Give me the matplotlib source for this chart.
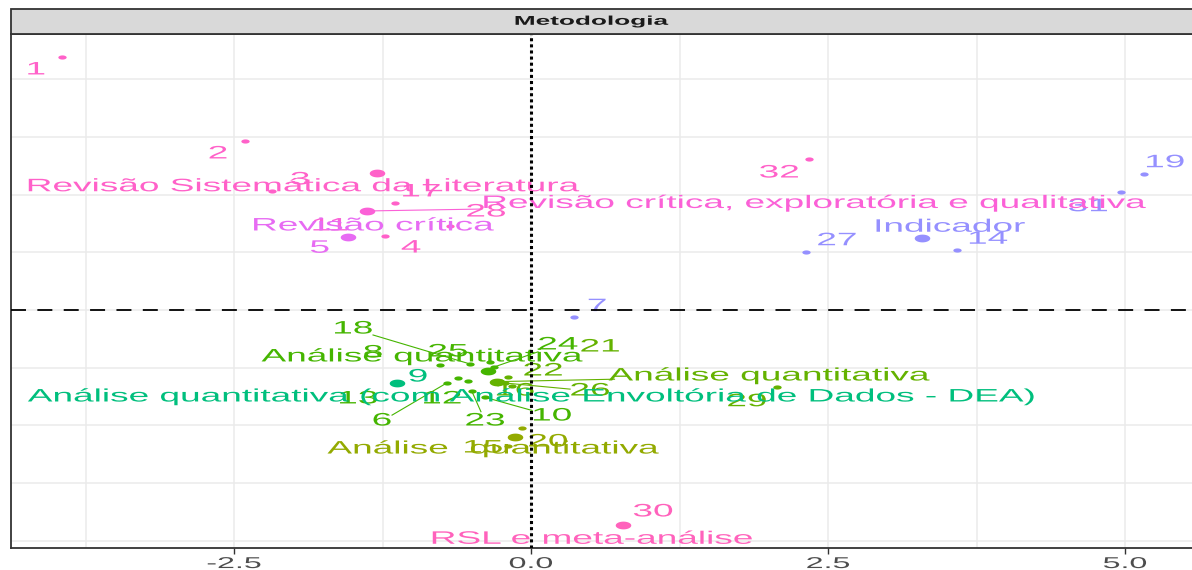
import numpy as np
import matplotlib
matplotlib.use('Agg')
import matplotlib.pyplot as plt
from matplotlib.path import Path
from matplotlib.patches import Rectangle
from matplotlib.patheffects import AbstractPathEffect
from matplotlib.transforms import Affine2D

plt.rcParams['font.family'] = ['Liberation Sans', 'DejaVu Sans']
plt.rcParams['axes.unicode_minus'] = False

# Metodologia groups: centroid (big dot) and label position
grupos = ['Revisão Sistemática da Literatura',
          'Revisão crítica',
          'Revisão crítica, exploratória e qualitativa',
          'Indicador',
          'RSL e meta-análise',
          'Análise quantitativa (com Análise Envoltória de Dados - DEA)',
          'Análise quantitativa',
          'Análise quantitativa',
          'Análise  quantitativa']
grupo_cx = [-1.299, -1.538, -1.383, 3.289, 0.777, -1.130, -0.359, -0.289, -0.135]
grupo_cy = [1.185, 0.635, 0.858, 0.627, -1.863, -0.635, -0.526, -0.621, -1.098]
grupo_lx = [-1.919, -1.330, 2.382, 3.527, 0.511, 0.0, -0.918, 2.003, -0.320]
grupo_ly = [1.068, 0.728, 0.923, 0.717, -1.987, -0.754, -0.407, -0.572, -1.205]
grupo_cor = ['#ff61c9', '#e76bf3', '#fb61d7', '#9590ff', '#ff62bc',
             '#00bf7d', '#45b500', '#64b200', '#93aa00']
grupo_seg = [2, 7]

# individual studies
ids = list(range(1, 33))
px = [-3.944, -2.407, -2.180, -1.232, -1.538, -0.710, 0.362, -0.766, -1.130, -0.387,
      -1.383, -0.614, -0.530, 3.583, -0.191, -0.160, -1.145, -0.513, 5.160, -0.078,
      -0.194, -0.261, -0.499, -0.311, -0.345, -0.219, 2.315, -0.682, 2.069, 0.777,
      4.964, 2.340]
py = [2.195, 1.467, 1.031, 0.641, 0.635, -0.633, -0.058, -0.477, -0.635, -0.757,
      0.858, -0.589, -0.615, 0.520, -1.176, -0.659, 0.925, -0.468, 1.179, -1.020,
      -0.581, -0.615, -0.702, -0.494, -0.451, -0.633, 0.505, 0.728, -0.670, -1.863,
      1.025, 1.306]
lx = [-4.167, -2.635, -1.944, -1.010, -1.779, -1.254, 0.556, -1.330, -0.951, 0.177,
      -1.692, -0.749, -1.456, 3.847, -0.404, -0.135, -0.926, -1.498, 5.337, 0.143,
      0.581, 0.101, -0.387, 0.227, -0.699, 0.497, 2.574, -0.379, 1.818, 1.027,
      4.689, 2.088]
ly = [2.080, 1.352, 1.127, 0.537, 0.535, -0.962, 0.029, -0.373, -0.581, -0.919,
      0.728, -0.771, -0.771, 0.613, -1.196, -0.702, 1.023, -0.165, 1.276, -1.144,
      -0.321, -0.529, -0.962, -0.303, -0.364, -0.702, 0.600, 0.849, -0.795, -1.750,
      0.895, 1.187]
grp = [0, 0, 0, 0, 1, 6, 3, 6, 5, 6,
       2, 6, 6, 3, 8, 7, 0, 6, 3, 8,
       7, 7, 6, 6, 6, 7, 3, 0, 7, 4,
       3, 0]
seg_ids = [6, 10, 18, 23, 24, 26]

xticks = [-2.5, 0.0, 2.5, 5.0]
xtick_labels = ['-2.5', '0.0', '2.5', '5.0']


class Wide(AbstractPathEffect):
    # the reference is stretched sideways, so stretch the glyphs too
    def __init__(self, sx=2.05):
        super().__init__()
        self.sx = sx

    def draw_path(self, renderer, gc, tpath, affine, rgbFace=None):
        ext = tpath.get_extents()
        cx = (ext.x0 + ext.x1) / 2
        st = Affine2D().translate(-cx, 0).scale(self.sx, 1).translate(cx, 0)
        renderer.draw_path(gc, tpath, st + affine, rgbFace)


wide = [Wide(2.05)]

t = np.linspace(0, 2 * np.pi, 41)
ell = Path(np.column_stack([np.cos(t), 0.5 * np.sin(t)]), closed=True)


def edge(x0, y0, x1, y1, s):
    # end point of a repel segment at the label box
    cw = 0.168 if s.isdigit() else 0.13
    hw = len(s) * cw / 2
    hh = 0.08
    dx, dy = x0 - x1, y0 - y1
    f = min(hw / abs(dx) if dx else 1e9, hh / abs(dy) if dy else 1e9)
    return x1 + f * dx, y1 + f * dy


fig = plt.figure(figsize=(11.92, 5.7), dpi=100)
ax = fig.add_axes([10.7 / 1192, 22.3 / 570, 1 - 10.7 / 1192, 513.4 / 570])
ax.set_xlim(-4.38, 5.564)
ax.set_ylim(-2.06, 2.389)

ax.set_xticks(xticks, labels=xtick_labels)
ax.set_xticks([-3.75, -1.25, 1.25, 3.75], minor=True)
ax.set_yticks([-2, -1, 0, 1, 2])
ax.set_yticks([-1.5, -0.5, 0.5, 1.5], minor=True)
ax.grid(True, which='both', color='#ebebeb', lw=1.1)
ax.set_axisbelow(True)
ax.tick_params(axis='y', which='both', left=False, labelleft=False)
ax.tick_params(axis='x', which='minor', bottom=False)
ax.tick_params(axis='x', which='major', length=4, width=1, pad=2,
               color='#333333', labelcolor='#4d4d4d', labelsize=11.3)
for sp in ['left', 'bottom', 'top']:
    ax.spines[sp].set_color('#333333')
    ax.spines[sp].set_linewidth(1.3)
ax.spines['right'].set_visible(False)

# points
for i in range(len(ids)):
    ax.plot(px[i], py[i], ls='none', marker=ell, ms=6.0, color=grupo_cor[grp[i]],
            mec='none', zorder=3)
for g in range(len(grupos)):
    ax.plot(grupo_cx[g], grupo_cy[g], ls='none', marker=ell, ms=11.2,
            color=grupo_cor[g], mec='none', zorder=3)

# segments
for i in range(len(ids)):
    if ids[i] in seg_ids:
        ex, ey = edge(px[i], py[i], lx[i], ly[i], str(ids[i]))
        ax.plot([px[i], ex], [py[i], ey], color=grupo_cor[grp[i]], lw=0.8, zorder=4)
for g in grupo_seg:
    ex, ey = edge(grupo_cx[g], grupo_cy[g], grupo_lx[g], grupo_ly[g], grupos[g])
    ax.plot([grupo_cx[g], ex], [grupo_cy[g], ey], color=grupo_cor[g], lw=0.8, zorder=4)

# labels
for i in range(len(ids)):
    ax.text(lx[i], ly[i], str(ids[i]), color=grupo_cor[grp[i]], fontsize=13,
            ha='center', va='center', zorder=5, path_effects=wide)
for g in range(len(grupos)):
    ax.text(grupo_lx[g], grupo_ly[g], grupos[g], color=grupo_cor[g], fontsize=13,
            ha='center', va='center', zorder=5, path_effects=wide)

ax.axvline(0, color='black', lw=2.2, ls=(0, (1.0, 1.0)), zorder=6)
ax.axhline(0, color='black', lw=1.3, ls=(0, (8.3, 6.3)), zorder=6)

for lab in ax.get_xticklabels():
    lab.set_path_effects(wide)

# facet strip
fig.add_artist(Rectangle((10.7 / 1192, 535.7 / 570), 1.0, 25 / 570,
                         transform=fig.transFigure, fc='#d9d9d9', ec='#333333',
                         lw=1.3, clip_on=False))
fig.text(591.5 / 1192, 1 - 21.8 / 570, 'Metodologia', ha='center', va='center',
         fontsize=9.2, fontweight='bold', color='#1a1a1a', path_effects=wide)

fig.savefig('out.png', dpi=100)
